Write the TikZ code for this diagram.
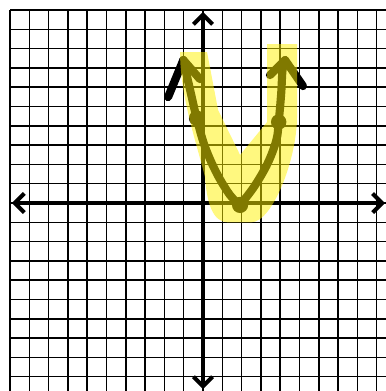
\documentclass[tikz,border=0pt]{standalone}
\usetikzlibrary{arrows.meta}
\tikzset{
  grid lines/.style={line width=1.1pt, black},
  axis/.style={{Straight Barb[length=7pt,width=14pt]}-{Straight Barb[length=7pt,width=14pt]}, line width=3pt},
  pen/.style={line width=6pt, line cap=round, line join=round},
  dot/.style={fill, black},
  hilite/.style={fill=yellow, opacity=0.5},
}

\begin{document}
\begin{tikzpicture}[x=0.5cm, y=0.5cm]
  % Frame
  \useasboundingbox (-10.52,-9.74) rectangle (9.48,10.52);
  \fill[white] (-10.52,-9.74) rectangle (9.48,10.52);

  % Grid
  \foreach \i in {-10,...,9}
    \draw[grid lines] (\i,-9.74) -- (\i,10);
  \foreach \j in {-9,...,10}
    \draw[grid lines] (-10,\j) -- (9.48,\j);

  % Axes
  \draw[axis] (-9.9,0) -- (9.43,0);
  \draw[axis] (0,-9.64) -- (0,9.9);

  % Parabola, drawn by hand
  \draw[pen] plot[smooth, tension=0.6] coordinates {
    (-1.02,7.41) (-0.59,5.51) (-0.33,4.40) (0.10,2.92) (0.71,1.54) (1.40,0.41) (1.92,-0.10)};
  \draw[pen] plot[smooth, tension=0.6] coordinates {
    (1.92,-0.10) (2.65,0.85) (3.35,2.06) (3.80,3.26) (3.92,4.20) (4.05,5.68) (4.12,6.89) (4.25,7.41)};

  % Arrow heads
  \draw[pen] (-1.81,5.49) -- (-1.02,7.41) -- (-0.16,6.42);
  \draw[pen] (3.47,6.63) -- (4.25,7.41) -- (5.18,6.06);

  % Points
  \fill[dot] (-0.33,4.40) circle (0.4);
  \fill[dot] (1.92,-0.10) circle (0.42);
  \fill[dot] (3.92,4.20) circle (0.4);

  % Highlighter
  \fill[hilite] (-1.19,7.82) -- (0.21,7.82) -- (0.78,4.82) -- (1.92,2.49)
    -- (3.32,4.20) -- (3.32,8.24) -- (4.87,8.24) -- (4.87,4.46)
    .. controls (4.87,2.3) and (3.6,-1.0) .. (2.5,-1.0)
    -- (1.3,-1.0)
    .. controls (0.5,-1.0) and (0.2,0) .. (0.1,1.35)
    .. controls (-0.3,3.0) and (-1.19,5.5) .. (-1.19,7.82) -- cycle;
\end{tikzpicture}
\end{document}
